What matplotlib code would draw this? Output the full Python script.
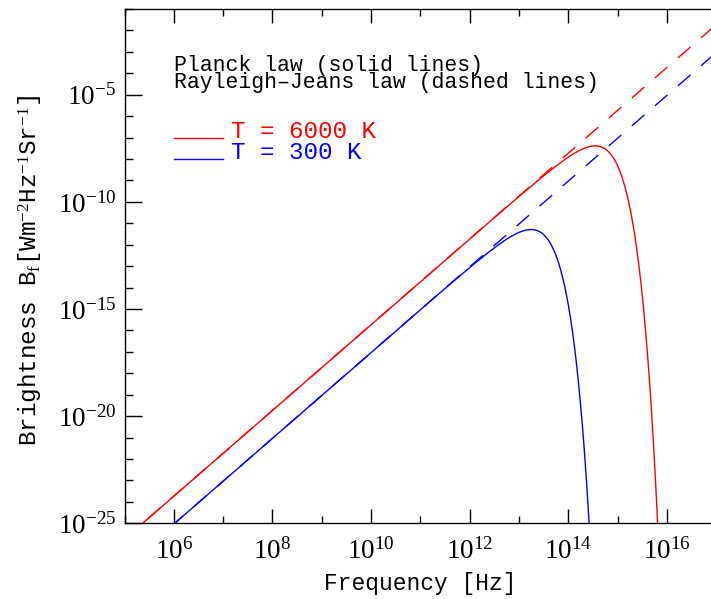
import numpy as np
import matplotlib
matplotlib.use('Agg')
import matplotlib.pyplot as plt
from matplotlib.ticker import FixedLocator, FuncFormatter, NullFormatter

plt.rcParams['font.family'] = ['Liberation Mono', 'DejaVu Sans Mono']
plt.rcParams['mathtext.fontset'] = 'custom'
plt.rcParams['mathtext.rm'] = 'Liberation Serif'
plt.rcParams['mathtext.it'] = 'Liberation Serif:italic'
plt.rcParams['axes.linewidth'] = 1.0

# physical constants (SI)
h = 6.626e-34
k = 1.381e-23
c = 2.998e8

temps = [6000, 300]
curve_colors = ['#ff0000', '#0000ff']
legend_labels = ['T = 6000 K', 'T = 300 K']
header_lines = ['Planck law (solid lines)', 'Rayleigh\u2013Jeans law (dashed lines)']

x_major = [1e6, 1e8, 1e10, 1e12, 1e14, 1e16]
x_minor = [1e5, 1e7, 1e9, 1e11, 1e13, 1e15, 1e17]
y_major = [1e-25, 1e-20, 1e-15, 1e-10, 1e-5]
y_minor = [10.0 ** p for p in range(-25, 0)]

freq = np.logspace(5, 18, 3000)


def planck(f, T):
    x = h * f / (k * T)
    return 2 * h * f ** 3 / c ** 2 / np.expm1(np.minimum(x, 700))


def rayleigh_jeans(f, T):
    return 2 * f ** 2 * k * T / c ** 2


W, H = 711, 599
fig = plt.figure(figsize=(W / 100, H / 100), dpi=100)
ax = fig.add_axes([124.5 / W, (H - 523.3) / H, 13 * 49.3 / W, 514.3 / H])

for T, col in zip(temps, curve_colors):
    ax.plot(freq, planck(freq, T), color=col, lw=1.0)
    ax.plot(freq, rayleigh_jeans(freq, T), color=col, lw=1.0, dashes=(12, 10))

ax.set_xscale('log')
ax.set_yscale('log')
ax.set_xlim(1e5, 1e18)
ax.set_ylim(1e-25, 1e-1)

ax.xaxis.set_major_locator(FixedLocator(x_major))
ax.xaxis.set_minor_locator(FixedLocator(x_minor))
ax.yaxis.set_major_locator(FixedLocator(y_major))
ax.yaxis.set_minor_locator(FixedLocator(y_minor))
fmt = FuncFormatter(lambda v, pos: r'$10^{%d}$' % int(round(np.log10(v))))
ax.xaxis.set_major_formatter(fmt)
ax.yaxis.set_major_formatter(fmt)
ax.xaxis.set_minor_formatter(NullFormatter())
ax.yaxis.set_minor_formatter(NullFormatter())

ax.tick_params(axis='both', which='both', direction='in', top=True, right=True,
               width=1.0, color='black', labelsize=19.5)
ax.tick_params(axis='x', which='major', length=10, pad=11)
ax.tick_params(axis='x', which='minor', length=5)
ax.tick_params(axis='y', which='major', length=12, pad=6)
ax.tick_params(axis='y', which='minor', length=6)

# axis titles
fig.text(420 / W, 1 - 590 / H, 'Frequency [Hz]', ha='center', va='baseline', fontsize=16.5)
fig.text(31 / W, 1 - 270 / H,
         r'Brightness B$_\mathrm{f}$[Wm$^{-2}$Hz$^{-1}$Sr$^{-1}$]',
         ha='center', va='center', rotation=90, fontsize=17.5)

# two-line header, tightly spaced
fig.text(174 / W, 1 - 55 / H, '\n'.join(header_lines), ha='left', va='top',
         fontsize=15.5, linespacing=0.78)

for i, (lab, col) in enumerate(zip(legend_labels, curve_colors)):
    yb = 138 + 21 * i
    ax.plot([174 / W, 223 / W], [1 - yb / H, 1 - yb / H], color=col, lw=1.0,
            transform=fig.transFigure, clip_on=False)
    fig.text(231 / W, 1 - yb / H, lab, color=col, ha='left', va='baseline', fontsize=17.5)

fig.savefig('out.png', dpi=100)
